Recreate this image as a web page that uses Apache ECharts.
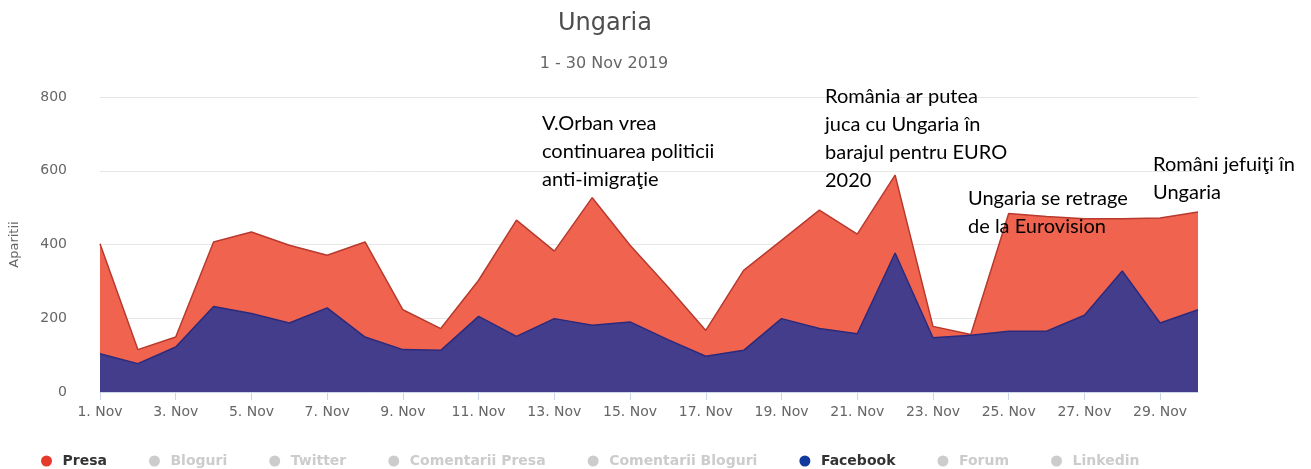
<!DOCTYPE html>
<html>
<head>
<meta charset="utf-8">
<title>Ungaria</title>
<script src="https://cdn.jsdelivr.net/npm/echarts@6/dist/echarts.min.js"></script>
<style>
  html, body { margin: 0; padding: 0; background: #fff; }
  #chart { width: 1311px; height: 469px; }
</style>
</head>
<body>
<div id="chart"></div>
<script>
// zile (etichete axa x)
const days = [
  '1. Nov', '2. Nov', '3. Nov', '4. Nov', '5. Nov', '6. Nov', '7. Nov', '8. Nov', '9. Nov', '10. Nov',
  '11. Nov', '12. Nov', '13. Nov', '14. Nov', '15. Nov', '16. Nov', '17. Nov', '18. Nov', '19. Nov', '20. Nov',
  '21. Nov', '22. Nov', '23. Nov', '24. Nov', '25. Nov', '26. Nov', '27. Nov', '28. Nov', '29. Nov', '30. Nov'
];

// aparitii pe zi
const presa = [402, 115, 149, 407, 434, 398, 371, 407, 223, 172, 303, 466, 382, 527, 398,
  285, 167, 330, 411, 493, 428, 588, 178, 156, 484, 476, 470, 470, 472, 488];
const facebook = [104, 77, 122, 232, 213, 187, 228, 149, 115, 113, 205, 151, 199, 181, 190,
  142, 97, 113, 199, 172, 158, 377, 147, 154, 165, 165, 208, 328, 187, 223];

// surse din legenda (doar Presa si Facebook active)
const sources = ['Presa', 'Bloguri', 'Twitter', 'Comentarii Presa', 'Comentarii Bloguri', 'Facebook', 'Forum', 'Linkedin'];
const activeSources = ['Presa', 'Facebook'];

const yTicks = { min: 0, max: 800, interval: 200 };

// note text
const notes = [
  { text: 'V.Orban vrea\ncontinuarea politicii\nanti-imigraţie', x: 542, y: 110 },
  { text: 'România ar putea\njuca cu Ungaria în\nbarajul pentru EURO\n2020', x: 825, y: 83 },
  { text: 'Ungaria se retrage\nde la Eurovision', x: 968, y: 185 },
  { text: 'Români jefuiţi în\nUngaria', x: 1153, y: 151 }
];

const chart = echarts.init(document.getElementById('chart'), null, { renderer: 'canvas' });

const seriesStyle = {
  Presa: { item: '#e53a2b', line: '#b8392d', area: '#f0644f', data: presa, z: 2 },
  Facebook: { item: '#123a9c', line: '#2c2a7c', area: '#433d8c', data: facebook, z: 3 }
};

const series = sources.map(name => {
  const s = seriesStyle[name];
  if (!s) {
    return { name, type: 'line', data: [], itemStyle: { color: '#cccccc' } };
  }
  return {
    name,
    type: 'line',
    data: s.data,
    z: s.z,
    symbol: 'none',
    itemStyle: { color: s.item },
    lineStyle: { color: s.line, width: 1.5 },
    areaStyle: { color: s.area, opacity: 1 }
  };
});

const selected = {};
sources.forEach(n => { selected[n] = activeSources.includes(n); });

chart.setOption({
  animation: false,
  backgroundColor: '#fff',
  grid: { left: 100, right: 113, top: 97, bottom: 77 },
  graphic: [
    {
      type: 'text', x: 605, y: 12,
      style: { text: 'Ungaria', textAlign: 'center', fill: '#4d4d4d', font: '24px "DejaVu Sans"' }
    },
    {
      type: 'text', x: 604, y: 56,
      style: { text: '1 - 30 Nov 2019', textAlign: 'center', fill: '#666', font: '16px "DejaVu Sans"' }
    },
    ...notes.map(n => ({
      type: 'text', x: n.x, y: n.y, z: 100,
      style: { text: n.text, fill: '#000', font: '20px Lato', lineHeight: 28, textVerticalAlign: 'top' }
    }))
  ],
  legend: {
    data: sources,
    selected,
    left: 36,
    top: 449,
    icon: 'circle',
    itemWidth: 22,
    itemHeight: 11,
    itemGap: 42,
    inactiveColor: '#cccccc',
    textStyle: { color: '#333', fontFamily: 'DejaVu Sans', fontWeight: 'bold', fontSize: 14 }
  },
  xAxis: {
    type: 'category',
    data: days,
    boundaryGap: false,
    axisLine: { lineStyle: { color: '#ccd6eb' } },
    axisTick: { show: true, interval: 1, length: 8, lineStyle: { color: '#ccd6eb' } },
    axisLabel: { interval: 1, color: '#666', fontFamily: 'DejaVu Sans', fontSize: 14, margin: 13 },
    splitLine: { show: false }
  },
  yAxis: {
    type: 'value',
    min: yTicks.min,
    max: yTicks.max,
    interval: yTicks.interval,
    name: 'Aparitii',
    nameLocation: 'middle',
    nameRotate: 90,
    nameGap: 79,
    nameTextStyle: { color: '#666', fontFamily: 'DejaVu Sans', fontSize: 13 },
    axisLine: { show: false },
    axisTick: { show: false },
    axisLabel: { color: '#666', fontFamily: 'DejaVu Sans', fontSize: 14, margin: 33 },
    splitLine: { lineStyle: { color: '#e6e6e6' } }
  },
  series
});
</script>
</body>
</html>
